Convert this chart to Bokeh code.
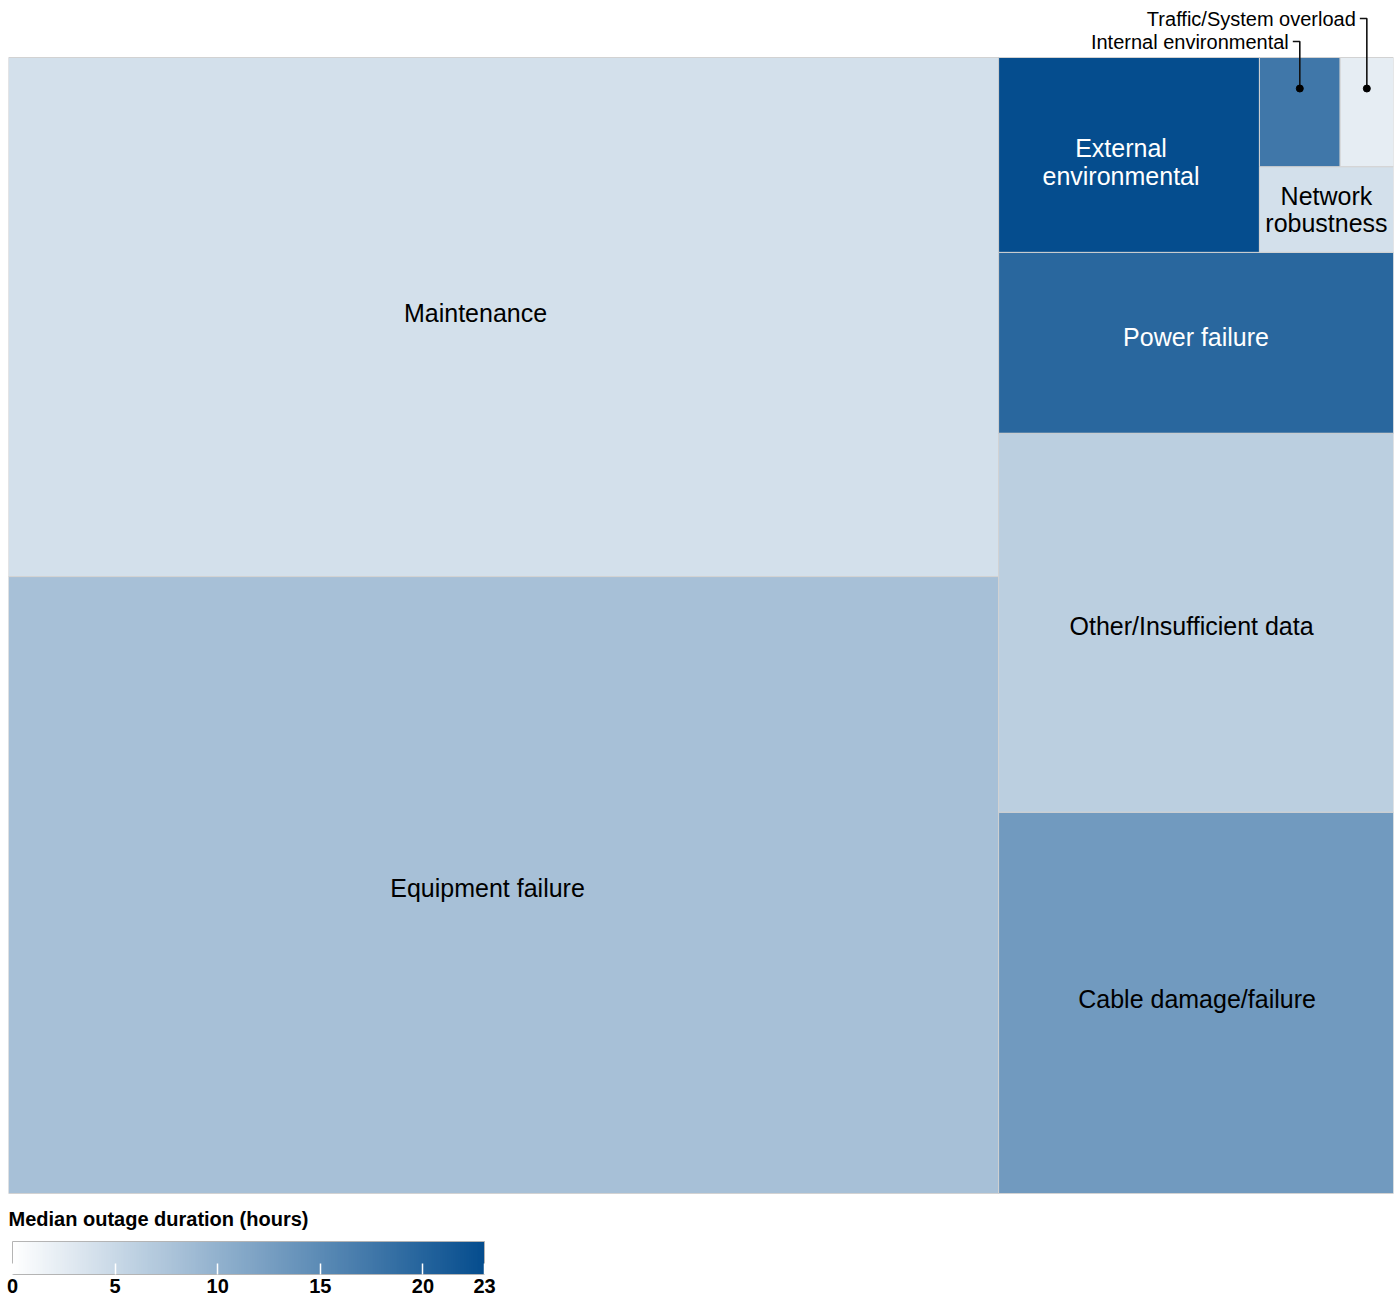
import numpy as np
from bokeh.plotting import figure
from bokeh.models import ColumnDataSource, LinearColorMapper, ColorBar, FixedTicker
from bokeh.core.properties import value
from bokeh.embed import file_html
from bokeh.resources import INLINE

# ---------------- data ----------------
causes = ["Equipment failure", "Maintenance", "Cable damage/failure",
          "Other/Insufficient data", "Power failure", "External environmental",
          "Network robustness", "Internal environmental", "Traffic/System overload"]
cell_labels = ["Equipment failure", "Maintenance", "Cable damage/failure",
               "Other/Insufficient data", "Power failure", "External\nenvironmental",
               "Network\nrobustness", "Internal environmental", "Traffic/System overload"]
share_pct = [38.82, 32.66, 9.57, 9.51, 4.54, 3.23, 0.73, 0.56, 0.37]
median_hours = [8.1, 4.1, 13.1, 6.2, 19.6, 23.0, 4.1, 17.6, 2.4]
colorbar_ticks = [0, 5, 10, 15, 20, 23]
colorbar_title = "Median outage duration (hours)"

# label nudges (style, in screen pixels: +x right, +y down)
label_nudge_px = {"Maintenance": (-28, -4.5), "Equipment failure": (-16, 2.5),
                  "Cable damage/failure": (1, -3.5), "Other/Insufficient data": (-4.5, 3.5),
                  "Power failure": (0, -5.5), "External environmental": (-8, 7)}

# ---------------- squarify layout (unit box 100 x 100) ----------------
def layoutrow(sizes, x, y, dx, dy):
    width = sum(sizes) / dy
    rects = []
    for s in sizes:
        rects.append((x, y, width, s / width))
        y += s / width
    return rects

def layoutcol(sizes, x, y, dx, dy):
    height = sum(sizes) / dx
    rects = []
    for s in sizes:
        rects.append((x, y, s / height, height))
        x += s / height
    return rects

def layout(sizes, x, y, dx, dy):
    return layoutrow(sizes, x, y, dx, dy) if dx >= dy else layoutcol(sizes, x, y, dx, dy)

def leftover(sizes, x, y, dx, dy):
    covered = sum(sizes)
    if dx >= dy:
        w = covered / dy
        return x + w, y, dx - w, dy
    h = covered / dx
    return x, y + h, dx, dy - h

def worst(sizes, x, y, dx, dy):
    return max(max(w / h, h / w) for (_, _, w, h) in layout(sizes, x, y, dx, dy))

def squarify(sizes, x, y, dx, dy):
    if not sizes:
        return []
    if len(sizes) == 1:
        return layout(sizes, x, y, dx, dy)
    i = 1
    while i < len(sizes) and worst(sizes[:i], x, y, dx, dy) >= worst(sizes[:i + 1], x, y, dx, dy):
        i += 1
    cur, rem = sizes[:i], sizes[i:]
    lx, ly, ldx, ldy = leftover(cur, x, y, dx, dy)
    return layout(cur, x, y, dx, dy) + squarify(rem, lx, ly, ldx, ldy)

BOX = 100.0
total = sum(share_pct)
norm = [s * BOX * BOX / total for s in share_pct]
rects = squarify(norm, 0.0, 0.0, BOX, BOX)

left = [r[0] for r in rects]
bottom = [r[1] for r in rects]
right = [r[0] + r[2] for r in rects]
top = [r[1] + r[3] for r in rects]
cx = [(a + b) / 2 for a, b in zip(left, right)]
cy = [(a + b) / 2 for a, b in zip(bottom, top)]

# ---------------- geometry of the figure ----------------
FIG_W, FIG_H = 1400, 1299
TM_W, TM_H = 1385, 1136     # pixel size of treemap area
TOP_PAD = 57                # pixels above treemap (callout labels)
px_x = BOX / TM_W
px_y = BOX / TM_H
y_end = BOX + TOP_PAD * px_y
y_start = y_end - FIG_H * px_y

# ---------------- colours ----------------
c0 = np.array([255, 255, 255], dtype=float)
c1 = np.array([5, 77, 142], dtype=float)
palette = ["#%02x%02x%02x" % tuple(int(round(v)) for v in (c0 + (c1 - c0) * t))
           for t in np.linspace(0, 1, 256)]
mapper = LinearColorMapper(palette=palette, low=colorbar_ticks[0], high=colorbar_ticks[-1])

p = figure(width=FIG_W, height=FIG_H, x_range=(0, BOX), y_range=(y_start, y_end),
           output_backend="svg", toolbar_location=None,
           min_border_left=8, min_border_right=FIG_W - TM_W - 8,
           min_border_top=0, min_border_bottom=0)
p.axis.visible = False
p.grid.visible = False
p.outline_line_color = None
p.background_fill_color = "white"
p.border_fill_color = "white"

src = ColumnDataSource(dict(left=left, right=right, bottom=bottom, top=top,
                            hours=median_hours, cause=causes))
p.quad(left="left", right="right", bottom="bottom", top="top", source=src,
       fill_color={"field": "hours", "transform": mapper},
       line_color="#d2d2d2", line_width=1)

# ---------------- labels ----------------
in_x, in_y, in_t, in_c = [], [], [], []
co = []
for i in range(len(causes)):
    wpx = (right[i] - left[i]) / px_x
    if wpx >= 120:
        nx, ny = label_nudge_px.get(causes[i], (0, 0))
        in_x.append(cx[i] + nx * px_x); in_y.append(cy[i] - ny * px_y)
        in_t.append(cell_labels[i])
        in_c.append("white" if median_hours[i] > 18 else "black")
    else:
        co.append(i)

p.text(x=in_x, y=in_y, text=in_t, text_color=in_c,
       text_font=value("Liberation Sans"), text_font_size="25px",
       text_align="center", text_baseline="middle", text_line_height=0.98)

# callouts for the small cells
co.sort(key=lambda i: cx[i])
seg_x, seg_y, dot_x, dot_y, lab_x, lab_y, lab_t = [], [], [], [], [], [], []
for k, i in enumerate(co):
    dy_dot = top[i] - 31 * px_y
    ly = top[i] + (16 + 23 * k) * px_y
    seg_x.append([cx[i], cx[i], cx[i] - 7 * px_x])
    seg_y.append([dy_dot, ly, ly])
    dot_x.append(cx[i]); dot_y.append(dy_dot)
    lab_x.append(cx[i] - 11 * px_x); lab_y.append(ly); lab_t.append(cell_labels[i])

p.multi_line(xs=seg_x, ys=seg_y, line_color="#111111", line_width=1.6)
p.scatter(x=dot_x, y=dot_y, size=7, color="black")
p.text(x=lab_x, y=lab_y, text=lab_t, text_color="black",
       text_font=value("Liberation Sans"), text_font_size="20px",
       text_align="right", text_baseline="middle")

# ---------------- colour bar ----------------
p.text(x=[0.0], y=[0.0 - 25 * px_y], text=[colorbar_title], text_color="black",
       text_font=value("Liberation Sans"), text_font_size="20px",
       text_font_style="bold", text_align="left", text_baseline="middle")

cb = ColorBar(color_mapper=mapper, orientation="horizontal",
              ticker=FixedTicker(ticks=colorbar_ticks),
              width=472, height=33, padding=0, location=(4, 4),
              major_label_text_font="Liberation Sans",
              major_label_text_font_size="20px", major_label_text_font_style="bold",
              major_label_text_color="black", label_standoff=4,
              major_tick_in=11, major_tick_out=0, major_tick_line_color="white",
              major_tick_line_width=1.5, minor_tick_line_color=None,
              bar_line_color="#b4b4b4", bar_line_width=1,
              background_fill_color=None, border_line_color=None)
p.add_layout(cb, "center")

open("out.html", "w").write(file_html(p, INLINE))
